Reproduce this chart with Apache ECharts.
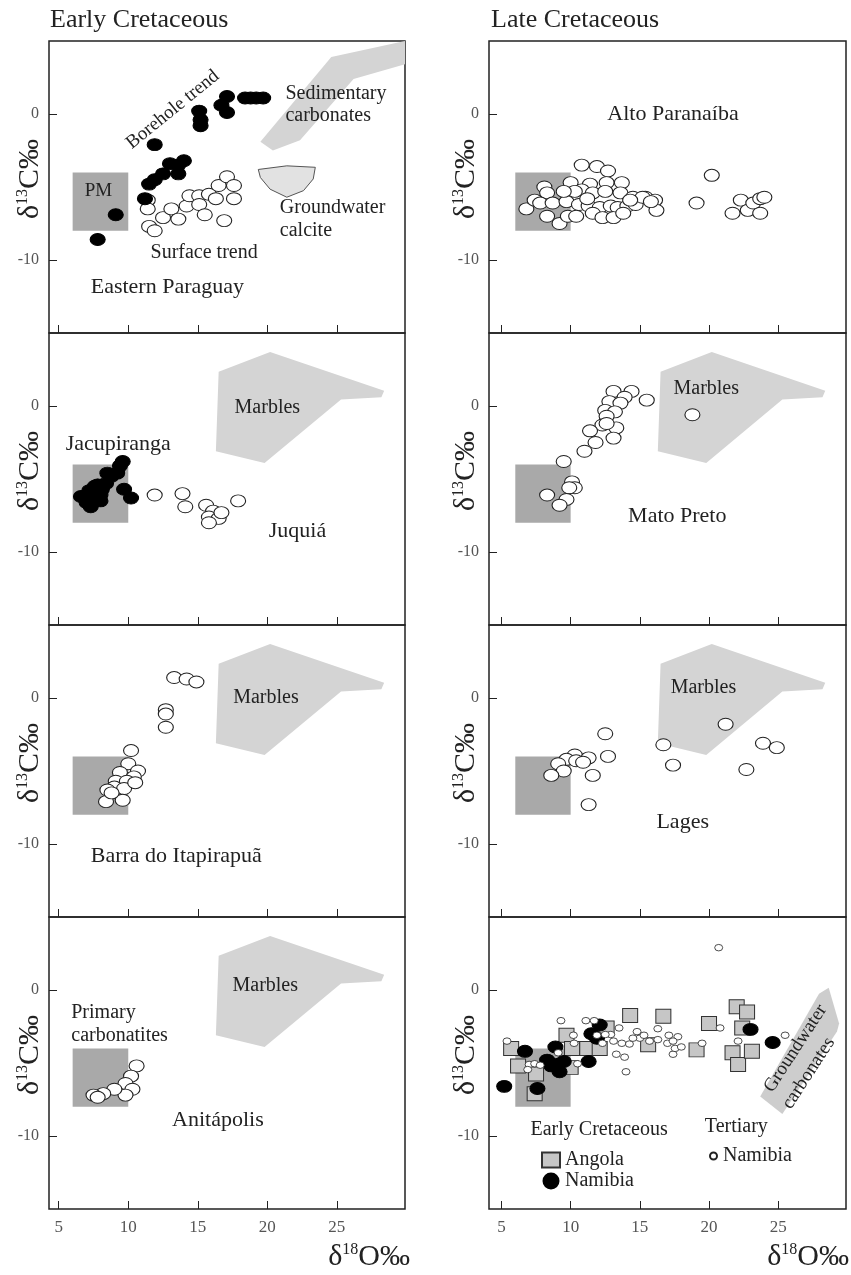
<!DOCTYPE html>
<html>
<head>
<meta charset="utf-8">
<title>δ13C vs δ18O, Cretaceous carbonatites</title>
<script src="https://cdn.jsdelivr.net/npm/echarts@6/dist/echarts.min.js"></script>
<style>
  html, body { margin: 0; padding: 0; background: #fff; }
  #chart { width: 851px; height: 1275px; }
</style>
</head>
<body>
<div id="chart"></div>
<script>
// ---- data (δ18O ‰, δ13C ‰) ----
const xTicks = [5, 10, 15, 20, 25]
const yTicks = [-10, 0]

// primary mantle box and reference fields
const pmBoxX = [6, 10]
const pmBoxY = [-8, -4]
const marbles = [[16.5, 2.35], [20.2, 3.7], [28.4, 1.05], [28.2, 0.6], [25.3, 0.45], [19.8, -3.9], [16.3, -3.1]]
const sedimentaryCarbonates = [[19.5, -1.9], [24.6, 3.9], [29.9, 5.0], [29.9, 3.4], [26.2, 2.4], [22.35, -1.8], [20.4, -2.5]]
const groundwaterCalcite = [[19.35, -3.8], [21.4, -3.55], [23.45, -3.65], [23.3, -4.45], [22.6, -5.25], [21.4, -5.7], [20.2, -5.15], [19.5, -4.35]]
const groundwaterCarbonates = [[23.7, -7.3], [27.95, -0.25], [28.65, 0.15], [29.4, -2.3], [29.25, -2.85], [25.3, -8.5]]

// Early Cretaceous
const paraguayBorehole = [[7.8, -8.6], [9.1, -6.9], [11.2, -5.8], [11.5, -4.8], [11.9, -4.5], [12.5, -4.1], [13.0, -3.4], [13.6, -3.5], [14.0, -3.2], [13.6, -4.1], [11.9, -2.1], [15.1, 0.2], [15.2, -0.4], [15.2, -0.8], [16.7, 0.6], [17.1, 1.2], [17.1, 0.1], [18.4, 1.1], [18.8, 1.1], [19.2, 1.1], [19.7, 1.1]]
const paraguaySurface = [[11.4, -5.9], [11.4, -6.5], [11.5, -7.7], [11.9, -8.0], [12.5, -7.1], [13.1, -6.5], [13.6, -7.2], [14.2, -6.3], [14.4, -5.6], [15.1, -5.6], [15.1, -6.2], [15.5, -6.9], [15.8, -5.5], [16.3, -5.8], [16.5, -4.9], [17.1, -4.3], [17.6, -4.9], [17.6, -5.8], [16.9, -7.3]]
const jacupiranga = [[6.6, -6.2], [7.0, -6.6], [7.3, -6.9], [7.2, -5.8], [7.6, -5.5], [7.6, -6.2], [8.0, -6.5], [8.1, -5.7], [8.4, -5.3], [8.5, -4.6], [8.8, -4.8], [9.2, -4.6], [9.6, -3.8], [9.4, -4.1], [9.7, -5.7], [10.2, -6.3], [8.0, -6.1], [7.8, -5.4]]
const juquia = [[11.9, -6.1], [13.9, -6.0], [14.1, -6.9], [15.6, -6.8], [16.1, -7.2], [15.8, -7.6], [16.5, -7.7], [15.8, -8.0], [16.7, -7.3], [17.9, -6.5]]
const barra = [[13.3, 1.4], [14.2, 1.3], [14.9, 1.1], [12.7, -0.8], [12.7, -1.1], [12.7, -2.0], [10.2, -3.6], [10.0, -4.5], [10.7, -5.0], [9.4, -5.1], [10.4, -5.4], [9.1, -5.7], [9.9, -5.7], [9.0, -6.1], [8.5, -6.3], [9.7, -6.2], [10.5, -5.8], [8.4, -7.1], [9.6, -7.0], [8.8, -6.5]]
const anitapolis = [[10.6, -5.2], [10.2, -5.9], [9.8, -6.4], [10.3, -6.8], [9.8, -7.2], [9.0, -6.8], [8.2, -7.1], [7.5, -7.2], [7.8, -7.35]]

// Late Cretaceous
const altoParanaiba = [[10.8, -3.5], [11.9, -3.6], [12.7, -3.9], [20.2, -4.2], [8.1, -5.0], [10.0, -4.7], [11.4, -4.8], [12.6, -4.7], [13.7, -4.7], [10.8, -5.2], [11.6, -5.4], [12.5, -5.3], [13.6, -5.4], [14.5, -5.7], [15.4, -5.7], [16.1, -5.9], [10.3, -5.3], [6.8, -6.5], [7.4, -5.9], [8.3, -5.4], [7.8, -6.1], [8.7, -6.1], [9.7, -6.0], [10.6, -6.2], [11.3, -6.3], [12.1, -6.4], [12.9, -6.3], [13.4, -6.4], [14.1, -6.3], [14.7, -6.2], [15.2, -5.7], [16.2, -6.6], [8.3, -7.0], [9.2, -7.5], [9.8, -7.0], [10.4, -7.0], [11.6, -6.8], [12.3, -7.1], [13.1, -7.1], [13.8, -6.8], [19.1, -6.1], [21.7, -6.8], [22.3, -5.9], [22.8, -6.6], [23.2, -6.1], [23.7, -6.8], [23.7, -5.8], [24.0, -5.7], [9.5, -5.3], [11.2, -5.8], [14.3, -5.9], [15.8, -6.0]]
const matoPreto = [[13.1, 1.0], [14.4, 1.0], [15.5, 0.4], [13.9, 0.6], [12.8, 0.3], [13.6, 0.2], [12.5, -0.3], [13.2, -0.4], [12.6, -0.7], [12.3, -1.3], [13.3, -1.5], [11.4, -1.7], [12.6, -1.2], [11.8, -2.5], [13.1, -2.2], [11.0, -3.1], [9.5, -3.8], [10.1, -5.2], [10.3, -5.6], [9.9, -5.6], [9.7, -6.4], [8.3, -6.1], [9.2, -6.8], [18.8, -0.6]]
const lages = [[12.5, -2.45], [10.3, -3.9], [11.3, -4.1], [9.7, -4.2], [9.1, -4.5], [10.4, -4.3], [10.9, -4.4], [12.7, -4.0], [9.5, -5.0], [8.6, -5.3], [11.6, -5.3], [11.3, -7.3], [16.7, -3.2], [17.4, -4.6], [21.2, -1.8], [22.7, -4.9], [23.9, -3.1], [24.9, -3.4]]

// Southern Africa
const angola = [[5.7, -4.0], [6.2, -5.2], [7.5, -5.75], [7.4, -7.1], [9.7, -3.1], [10.1, -4.0], [10.0, -5.3], [11.2, -4.0], [12.1, -4.0], [12.6, -2.6], [14.3, -1.75], [15.6, -3.75], [16.7, -1.8], [19.1, -4.1], [20.0, -2.3], [22.0, -1.15], [22.75, -1.5], [22.4, -2.6], [21.7, -4.3], [22.1, -5.1], [23.1, -4.2]]
const namibiaEarly = [[5.2, -6.6], [6.7, -4.2], [7.6, -6.75], [8.9, -3.9], [8.3, -4.8], [9.0, -5.1], [9.2, -5.6], [9.5, -4.9], [8.6, -5.2], [11.3, -4.9], [11.5, -3.0], [12.1, -2.4], [11.9, -3.3], [23.0, -2.7], [24.6, -3.6]]
const namibiaTertiary = [[5.4, -3.5], [9.3, -2.1], [11.1, -2.1], [11.7, -2.1], [13.5, -2.6], [14.8, -2.85], [16.3, -2.65], [17.1, -3.1], [17.75, -3.2], [20.7, 2.9], [20.8, -2.6], [22.1, -3.5], [25.5, -3.1], [19.5, -3.65], [10.2, -3.1], [10.25, -3.65], [12.9, -3.05], [13.1, -3.5], [13.7, -3.65], [14.25, -3.7], [15.0, -3.3], [15.3, -3.1], [15.7, -3.5], [16.3, -3.4], [17.0, -3.65], [17.4, -3.5], [17.4, -4.4], [17.55, -4.0], [18.0, -3.9], [13.3, -4.4], [13.9, -4.6], [14.0, -5.6], [12.3, -3.65], [7.0, -5.1], [7.4, -5.05], [7.8, -5.15], [6.9, -5.45], [10.5, -5.05], [12.5, -3.05], [14.5, -3.3], [9.1, -4.3], [11.9, -3.1]]

// ---- layout ----
const SERIF = '"Liberation Serif", "Times New Roman", serif'
const INK = '#222'
const colLeft = [49, 489]
const colWidth = [356, 357]
const colX = [[4.3, 29.9], [4.1, 29.9]]
const rowTop = [41, 333, 625, 917]
const rowHeight = 292

// panels: idx -> [col, row]
const panelPos = [[0, 0], [0, 1], [0, 2], [0, 3], [1, 0], [1, 1], [1, 2], [1, 3]]

const openStyle = { symbol: 'circle', symbolSize: [15, 12], itemStyle: { color: '#fff', borderColor: INK, borderWidth: 1, opacity: 1 } }
const filledStyle = { symbol: 'circle', symbolSize: [15, 12], itemStyle: { color: '#000', borderColor: '#000', borderWidth: 1, opacity: 1 } }
const squareStyle = { symbol: 'rect', symbolSize: [15, 14], itemStyle: { color: '#c6c6c6', borderColor: '#333', borderWidth: 1, opacity: 1 } }
const smallStyle = { symbol: 'circle', symbolSize: [8, 6.5], itemStyle: { color: '#fff', borderColor: INK, borderWidth: 0.8, opacity: 1 } }

function scatter(idx, name, data, style) {
  return Object.assign({ type: 'scatter', name, xAxisIndex: idx, yAxisIndex: idx, data, z: 3 }, style)
}

function field(idx, pts, style) {
  return {
    type: 'custom', xAxisIndex: idx, yAxisIndex: idx, silent: true, clip: true, z: 1,
    data: pts,
    renderItem: (params, api) => {
      if (params.dataIndex !== 0) return null
      return { type: 'polygon', shape: { points: pts.map(p => api.coord(p)) }, style }
    }
  }
}

function pmBox(idx) {
  const box = [[pmBoxX[0], pmBoxY[1]], [pmBoxX[1], pmBoxY[1]], [pmBoxX[1], pmBoxY[0]], [pmBoxX[0], pmBoxY[0]]]
  return field(idx, box, { fill: '#a9a9a9' })
}

const marbleStyle = { fill: '#d4d4d4' }

function notes(idx, items) {
  return {
    type: 'custom', xAxisIndex: idx, yAxisIndex: idx, silent: true, clip: false, z: 5,
    data: items.map(t => [t.x, t.y]),
    renderItem: (params, api) => {
      const t = items[params.dataIndex]
      const p = api.coord([t.x, t.y])
      return {
        type: 'text', x: p[0], y: p[1], rotation: (t.rot || 0) * Math.PI / 180,
        style: { text: t.text, fontFamily: SERIF, fontSize: t.size || 20, fill: INK, align: t.align || 'left', verticalAlign: 'middle' }
      }
    }
  }
}

const series = [
  // Eastern Paraguay
  pmBox(0),
  field(0, sedimentaryCarbonates, marbleStyle),
  field(0, groundwaterCalcite, { fill: '#e2e2e2', stroke: '#555', lineWidth: 1 }),
  scatter(0, 'Surface trend', paraguaySurface, openStyle),
  scatter(0, 'Borehole trend', paraguayBorehole, filledStyle),
  notes(0, [
    { text: 'Borehole trend', x: 13.2, y: 0.3, rot: 39, size: 19, align: 'center' },
    { text: 'Sedimentary', x: 21.3, y: 1.4 },
    { text: 'carbonates', x: 21.3, y: -0.1 },
    { text: 'PM', x: 7.85, y: -5.3, size: 19, align: 'center' },
    { text: 'Groundwater', x: 20.9, y: -6.4 },
    { text: 'calcite', x: 20.9, y: -8.0 },
    { text: 'Surface trend', x: 11.6, y: -9.5 },
    { text: 'Eastern Paraguay', x: 7.3, y: -11.85, size: 22 }
  ]),
  // Jacupiranga / Juquiá
  pmBox(1),
  field(1, marbles, marbleStyle),
  scatter(1, 'Juquiá', juquia, openStyle),
  scatter(1, 'Jacupiranga', jacupiranga, filledStyle),
  notes(1, [
    { text: 'Marbles', x: 20.0, y: -0.15, align: 'center' },
    { text: 'Jacupiranga', x: 5.5, y: -2.6, size: 22 },
    { text: 'Juquiá', x: 20.1, y: -8.6, size: 22 }
  ]),
  // Barra do Itapirapuã
  pmBox(2),
  field(2, marbles, marbleStyle),
  scatter(2, 'Barra do Itapirapuã', barra, openStyle),
  notes(2, [
    { text: 'Marbles', x: 19.9, y: 0.05, align: 'center' },
    { text: 'Barra do Itapirapuã', x: 7.3, y: -10.85, size: 22 }
  ]),
  // Anitápolis
  pmBox(3),
  field(3, marbles, marbleStyle),
  scatter(3, 'Anitápolis', anitapolis, openStyle),
  notes(3, [
    { text: 'Marbles', x: 19.85, y: 0.3, align: 'center' },
    { text: 'Primary', x: 5.9, y: -1.55 },
    { text: 'carbonatites', x: 5.9, y: -3.15 },
    { text: 'Anitápolis', x: 13.15, y: -8.9, size: 22 }
  ]),
  // Alto Paranaíba
  pmBox(4),
  scatter(4, 'Alto Paranaíba', altoParanaiba, openStyle),
  notes(4, [{ text: 'Alto Paranaíba', x: 12.65, y: 0, size: 22 }]),
  // Mato Preto
  pmBox(5),
  field(5, marbles, marbleStyle),
  scatter(5, 'Mato Preto', matoPreto, openStyle),
  notes(5, [
    { text: 'Marbles', x: 19.8, y: 1.2, align: 'center' },
    { text: 'Mato Preto', x: 14.15, y: -7.55, size: 22 }
  ]),
  // Lages
  pmBox(6),
  field(6, marbles, marbleStyle),
  scatter(6, 'Lages', lages, openStyle),
  notes(6, [
    { text: 'Marbles', x: 19.6, y: 0.7, align: 'center' },
    { text: 'Lages', x: 16.2, y: -8.5, size: 22 }
  ]),
  // Angola / Namibia
  pmBox(7),
  field(7, groundwaterCarbonates, { fill: '#cdcdcd' }),
  scatter(7, 'Angola', angola, squareStyle),
  scatter(7, 'Namibia', namibiaEarly, filledStyle),
  scatter(7, 'Namibia (Tertiary)', namibiaTertiary, smallStyle),
  notes(7, [
    { text: 'Groundwater', x: 26.25, y: -4.0, rot: 57, size: 19, align: 'center' },
    { text: 'carbonates', x: 27.2, y: -5.7, rot: 57, size: 19, align: 'center' },
    { text: 'Early Cretaceous', x: 7.1, y: -9.55 },
    { text: 'Tertiary', x: 19.7, y: -9.4 }
  ])
]

const grid = panelPos.map(([c, r]) => ({
  left: colLeft[c], top: rowTop[r], width: colWidth[c], height: rowHeight,
  show: true, borderColor: INK, borderWidth: 1.5, backgroundColor: 'rgba(0,0,0,0)'
}))

const xAxis = panelPos.map(([c, r], i) => ({
  type: 'value', gridIndex: i, min: colX[c][0], max: colX[c][1],
  axisLine: { show: false, onZero: false },
  splitLine: { show: false },
  axisTick: { show: true, inside: true, length: 8, customValues: xTicks, lineStyle: { color: INK } },
  axisLabel: { show: r === 3, customValues: xTicks, margin: 10, fontFamily: SERIF, fontSize: 17, color: '#555' }
}))

const yAxis = panelPos.map((p, i) => ({
  type: 'value', gridIndex: i, min: -15, max: 5, interval: 5,
  axisLine: { show: false, onZero: false },
  splitLine: { show: false },
  axisTick: { show: true, inside: true, length: 8, customValues: yTicks, lineStyle: { color: INK } },
  axisLabel: { customValues: yTicks, margin: 10, fontFamily: SERIF, fontSize: 16, color: '#555' }
}))

const nameRich = {
  a: { fontFamily: SERIF, fontSize: 30, fill: INK },
  b: { fontFamily: SERIF, fontSize: 16, fill: INK, verticalAlign: 'top' }
}
const graphic = []
panelPos.forEach(([c, r]) => {
  graphic.push({
    type: 'text', x: c === 0 ? 30 : 466, y: rowTop[r] + rowHeight / 2 - 8, rotation: Math.PI / 2,
    style: { text: '{a|δ}{b|13}{a|C‰}', rich: nameRich, align: 'center', verticalAlign: 'middle' }
  })
})
graphic.push(
  { type: 'text', x: 410, y: 1257, style: { text: '{a|δ}{b|18}{a|O‰}', rich: nameRich, align: 'right', verticalAlign: 'middle' } },
  { type: 'text', x: 849, y: 1257, style: { text: '{a|δ}{b|18}{a|O‰}', rich: nameRich, align: 'right', verticalAlign: 'middle' } }
)

const legendText = { fontFamily: SERIF, fontSize: 20, color: INK }
const option = {
  animation: false,
  backgroundColor: '#fff',
  title: [
    { text: 'Early Cretaceous', left: 45, top: 2, textStyle: { fontFamily: SERIF, fontSize: 26, fontWeight: 'normal', color: INK } },
    { text: 'Late Cretaceous', left: 486, top: 2, textStyle: { fontFamily: SERIF, fontSize: 26, fontWeight: 'normal', color: INK } }
  ],
  legend: [
    { data: ['Angola', 'Namibia'], orient: 'vertical', left: 536, top: 1145, itemWidth: 18, itemHeight: 15, itemGap: 1, selectedMode: false, textStyle: Object.assign({ lineHeight: 20 }, legendText) },
    { data: ['Namibia (Tertiary)'], left: 704, top: 1141, itemWidth: 9, itemHeight: 7, selectedMode: false, formatter: () => 'Namibia', textStyle: legendText }
  ],
  grid, xAxis, yAxis, series, graphic
}

const chart = echarts.init(document.getElementById('chart'))
chart.setOption(option)
</script>
</body>
</html>
